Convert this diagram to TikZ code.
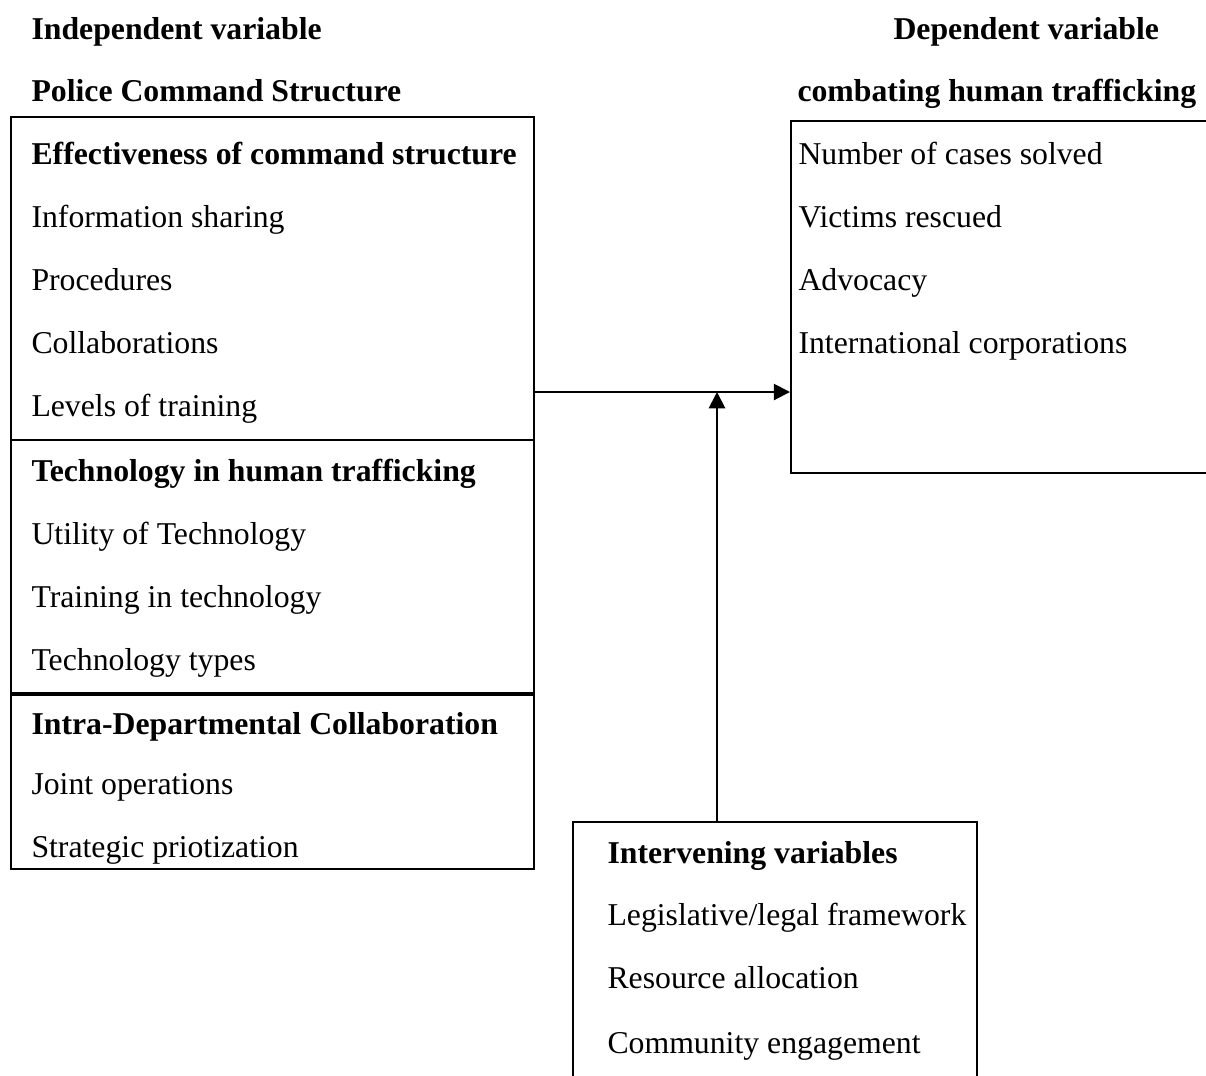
\documentclass[tikz,border=0pt]{standalone}
\usepackage{fontspec}
\setmainfont{Liberation Serif}
\usetikzlibrary{arrows.meta,fit}

\begin{document}
\begin{tikzpicture}[x=0.4pt,y=-0.4pt,
    item/.style={anchor=base west,inner sep=0pt,font=\fontsize{12.7}{15}\selectfont},
    head/.style={item,font=\fontsize{12.7}{15}\selectfont\bfseries},
    box/.style={draw,line width=0.8pt,inner sep=0pt},
    arr/.style={line width=0.8pt,-{Triangle[length=6.5pt,width=6.5pt]}}]
  \useasboundingbox (0,0) rectangle (1206,1075);

  % headings
  \node[head] (indep) at (31,39) {Independent variable};
  \node[head] (pcs) at (31,101) {Police Command Structure};
  \node[head] (dep) at (893,39) {Dependent variable};
  \node[head] (cht) at (797,101) {combating human trafficking};

  % boxes
  \node[box,fit={(11,117) (534,869)}] (lbox) {};
  \node[box,fit={(791,121) (1240,473)}] (rbox) {};
  \node[box,fit={(573,822) (977,1110)}] (ibox) {};
  \draw[line width=0.8pt] (lbox.west |- 0,440) -- (lbox.east |- 0,440);
  \draw[line width=1.6pt] (lbox.west |- 0,694) -- (lbox.east |- 0,694);

  % independent variable
  \node[head] (effect) at (31,164) {Effectiveness of command structure};
  \node[head] (techn) at (31,481) {Technology in human trafficking};
  \node[head] (intra) at (31,734) {Intra-Departmental Collaboration};
  \foreach \t/\y [count=\i] in {Information sharing/227, Procedures/290,
      Collaborations/353, Levels of training/416, Utility of Technology/544,
      Training in technology/607, Technology types/670, Joint operations/794,
      Strategic priotization/857}
    \node[item] (ind\i) at (31,\y) {\t};

  % dependent variable
  \foreach \t/\y [count=\i] in {Number of cases solved/164, Victims rescued/227,
      Advocacy/290, International corporations/353}
    \node[item] (dv\i) at (798,\y) {\t};

  % intervening variables
  \node[head] (interv) at (607,863) {Intervening variables};
  \foreach \t/\y [count=\i] in {{Legislative/legal framework}/925,
      Resource allocation/988, Community engagement/1053}
    \node[item] (iv\i) at (607,\y) {\t};

  % arrows
  \coordinate (jn) at (717,392);
  \draw[arr] (lbox.east |- jn) -- (rbox.west |- jn);
  \draw[arr] (ibox.north -| jn) -- (jn);
\end{tikzpicture}
\end{document}
